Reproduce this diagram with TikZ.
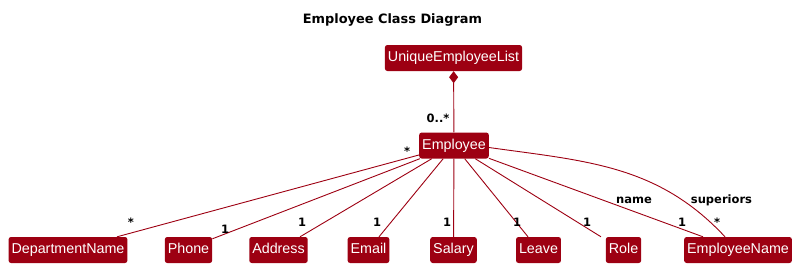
\documentclass[tikz,border=0pt]{standalone}
\usepackage{fontspec}
\setmainfont{Liberation Sans}
\newfontfamily\lblfont{DejaVu Sans}
\usetikzlibrary{arrows.meta}

\definecolor{model}{HTML}{9D0012}

\tikzset{
  cls/.style={fill=model, text=white, rounded corners=2.5pt, minimum height=26pt,
    inner xsep=3pt, inner ysep=0pt, text height=10.5pt, text depth=3pt,
    font=\fontsize{14.3}{16}\selectfont},
  assoc/.style={draw=model, line width=0.9pt},
  mult/.style={anchor=base, inner sep=0pt, font=\lblfont\bfseries\fontsize{11.5}{13}\selectfont},
}

\begin{document}
\begin{tikzpicture}[x=1pt, y=-1pt]
\useasboundingbox (0,0) rectangle (799,269);

\node[font=\lblfont\bfseries\fontsize{12.9}{15}\selectfont] (title) at (392.5,20) {Employee Class Diagram};

\node[cls] (uel) at (453.5,58) {UniqueEmployeeList};
\node[cls] (emp) at (454,145.5) {Employee};

% attribute classes along the bottom
\foreach \n/\x/\t in {dept/68/DepartmentName, phone/188.5/Phone, addr/278.5/Address,
    email/368.5/Email, salary/453.5/Salary, leave/538.5/Leave, role/623.5/Role, ename/738/EmployeeName}
{
   \node[cls] (\n) at (\x,250) {\t};
}

% composition
\draw[assoc, draw=model, {Diamond[length=12pt,width=9pt]}-] (uel) -- (emp);
\node[mult] (m0) at (438,122) {0..*};

% associations
\draw[assoc] (emp) -- ([xshift=49pt]dept.north);
\draw[assoc] (emp) -- ([yshift=-2pt]phone.north east);
\draw[assoc] (emp) -- ([xshift=21.5pt]addr.north);
\draw[assoc] (emp) -- ([xshift=10.5pt]email.north);
\draw[assoc] (emp) -- (salary);
\draw[assoc] (emp) -- ([xshift=-10.5pt]leave.north);
\draw[assoc] (emp) -- ([xshift=-22.5pt]role.north);
\draw[assoc] (emp) -- ([xshift=-35pt]ename.north);
\draw[assoc] ([yshift=-2pt]emp.east) to[out=-8, in=133] ([xshift=-13pt]ename.north);

\node[mult] (s0) at (407,155) {*};
\node[mult] (s1) at (131,226) {*};
\node[mult] (n1) at (225,233) {1};
\node[mult] (n2) at (302,226) {1};
\node[mult] (n3) at (377,226) {1};
\node[mult] (n4) at (447,226) {1};
\node[mult] (n5) at (517,226) {1};
\node[mult] (n6) at (587,226) {1};
\node[mult] (n7) at (682,226) {1};
\node[mult] (s2) at (717,226) {*};
\node[mult] (r1) at (634,203) {name};
\node[mult] (r2) at (721.5,203) {superiors};

\end{tikzpicture}
\end{document}
